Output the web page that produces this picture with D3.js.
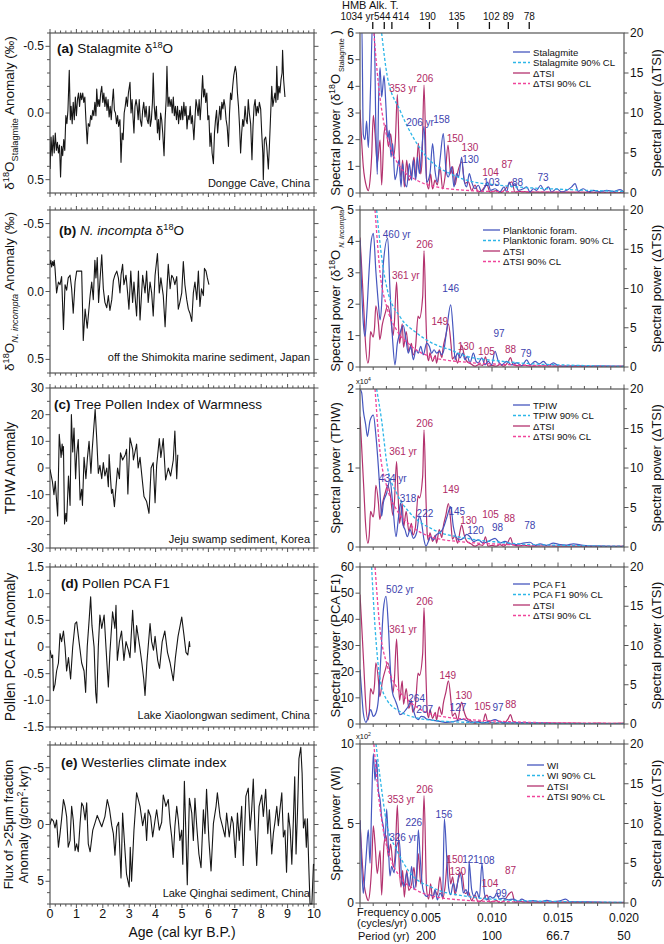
<!DOCTYPE html>
<html><head><meta charset="utf-8">
<script src="https://cdn.jsdelivr.net/npm/d3@7"></script>
<style>body{margin:0;background:#fff;} text{font-family:"Liberation Sans",Arial,Helvetica,sans-serif;fill:#111;}</style>
</head><body><svg id="c" width="664" height="944"></svg>
<script>
// ---------------- DATA ----------------
const ageTicks=[0,1,2,3,4,5,6,7,8,9,10];
const stalagmite=[[0.00,0.42],[0.04,0.18],[0.08,0.32],[0.12,0.17],[0.16,0.30],[0.20,0.15],[0.24,0.28],[0.28,0.22],[0.32,0.30],[0.36,0.24],[0.40,0.48],[0.44,0.25],[0.48,0.32],[0.52,0.20],[0.56,0.28],[0.60,0.02],[0.64,0.08],[0.68,-0.02],[0.73,-0.32],[0.77,0.05],[0.80,-0.05],[0.84,0.08],[0.88,-0.08],[0.92,0.05],[0.96,-0.12],[1.00,0.02],[1.04,-0.10],[1.08,-0.15],[1.12,-0.05],[1.16,-0.15],[1.20,-0.10],[1.24,-0.15],[1.28,-0.08],[1.32,-0.12],[1.36,0.05],[1.41,0.23],[1.45,0.08],[1.50,0.10],[1.54,0.02],[1.58,0.05],[1.62,-0.02],[1.66,0.02],[1.70,-0.08],[1.74,0.02],[1.77,-0.18],[1.81,-0.05],[1.85,-0.10],[1.88,-0.05],[1.92,-0.15],[1.96,-0.20],[2.00,-0.08],[2.04,-0.15],[2.08,-0.05],[2.12,-0.12],[2.16,-0.02],[2.20,-0.10],[2.24,0.03],[2.28,-0.05],[2.32,0.05],[2.36,-0.08],[2.40,-0.18],[2.44,-0.02],[2.48,0.00],[2.52,0.08],[2.56,0.02],[2.60,0.10],[2.65,0.05],[2.69,0.37],[2.73,0.15],[2.77,0.20],[2.81,0.00],[2.85,-0.05],[2.89,-0.12],[2.93,-0.05],[2.97,-0.15],[3.03,-0.23],[3.07,0.00],[3.11,-0.10],[3.15,0.05],[3.18,0.15],[3.22,-0.05],[3.26,-0.10],[3.30,-0.05],[3.34,0.05],[3.38,-0.10],[3.42,0.05],[3.47,0.10],[3.51,-0.02],[3.55,-0.08],[3.60,0.03],[3.64,-0.05],[3.68,0.05],[3.72,0.08],[3.76,-0.05],[3.80,0.10],[3.84,0.05],[3.88,-0.08],[3.91,-0.30],[3.95,-0.05],[3.99,0.05],[4.03,-0.05],[4.07,0.15],[4.11,0.05],[4.15,0.20],[4.19,0.00],[4.23,0.05],[4.27,0.15],[4.32,0.32],[4.36,0.05],[4.40,-0.10],[4.43,-0.35],[4.47,-0.05],[4.51,-0.12],[4.55,-0.05],[4.59,-0.10],[4.63,0.00],[4.67,-0.12],[4.71,0.02],[4.75,-0.05],[4.79,0.05],[4.83,-0.05],[4.87,0.08],[4.91,-0.02],[4.95,0.05],[4.99,-0.05],[5.03,0.05],[5.07,-0.08],[5.11,0.02],[5.15,-0.05],[5.19,0.12],[5.23,0.02],[5.27,0.05],[5.31,-0.05],[5.35,0.08],[5.39,0.02],[5.45,0.20],[5.49,0.05],[5.53,-0.10],[5.57,-0.05],[5.61,0.02],[5.65,-0.10],[5.69,0.05],[5.73,-0.08],[5.78,-0.28],[5.82,-0.12],[5.86,-0.18],[5.90,-0.08],[5.94,-0.15],[5.98,0.05],[6.02,0.02],[6.06,0.25],[6.10,0.15],[6.14,0.30],[6.19,0.38],[6.23,0.15],[6.27,0.05],[6.31,-0.02],[6.35,0.15],[6.39,0.05],[6.43,-0.05],[6.47,0.05],[6.51,-0.08],[6.55,-0.03],[6.59,-0.10],[6.63,-0.05],[6.67,0.05],[6.71,0.10],[6.76,0.25],[6.80,0.00],[6.84,-0.15],[6.88,-0.10],[6.92,-0.20],[6.96,-0.28],[7.02,-0.35],[7.06,-0.30],[7.10,-0.15],[7.14,-0.05],[7.18,0.10],[7.22,0.30],[7.26,0.15],[7.30,0.05],[7.34,0.10],[7.39,-0.05],[7.43,0.05],[7.47,0.08],[7.51,-0.10],[7.55,0.00],[7.60,0.08],[7.65,0.35],[7.69,0.10],[7.73,-0.05],[7.77,-0.10],[7.81,0.02],[7.85,-0.05],[7.89,0.00],[7.93,-0.08],[7.98,-0.03],[8.02,0.15],[8.06,0.30],[8.08,0.50],[8.12,0.20],[8.17,0.18],[8.21,0.25],[8.27,0.42],[8.31,0.25],[8.35,0.05],[8.40,-0.20],[8.44,-0.05],[8.48,-0.10],[8.52,-0.15],[8.56,-0.08],[8.59,-0.35],[8.63,-0.10],[8.67,-0.20],[8.71,-0.15],[8.75,-0.25],[8.79,-0.30],[8.81,-0.47],[8.85,-0.25],[8.90,-0.12]];
const incompta=[[0.00,-0.20],[0.03,-0.23],[0.06,-0.18],[0.10,-0.22],[0.13,-0.19],[0.16,-0.23],[0.19,-0.17],[0.25,0.01],[0.32,-0.07],[0.38,-0.05],[0.44,-0.11],[0.51,0.28],[0.57,-0.05],[0.63,-0.01],[0.69,-0.10],[0.76,-0.12],[0.82,-0.02],[0.88,0.16],[0.95,-0.07],[1.01,-0.15],[1.20,-0.15],[1.26,0.36],[1.33,0.13],[1.41,0.27],[1.52,0.03],[1.58,-0.07],[1.64,0.06],[1.70,-0.23],[1.74,-0.10],[1.79,-0.25],[1.84,0.08],[1.89,-0.07],[1.96,-0.27],[2.02,-0.02],[2.08,0.08],[2.15,0.12],[2.21,0.03],[2.27,0.14],[2.34,0.06],[2.40,-0.08],[2.46,-0.12],[2.53,-0.15],[2.59,-0.10],[2.65,0.01],[2.69,-0.12],[2.75,-0.20],[2.80,-0.05],[2.88,-0.12],[2.94,0.01],[2.99,0.13],[3.06,-0.15],[3.13,0.08],[3.18,-0.07],[3.28,0.18],[3.35,-0.15],[3.41,0.21],[3.51,-0.12],[3.60,0.01],[3.66,-0.15],[3.72,0.08],[3.79,-0.07],[3.85,0.01],[3.91,0.18],[3.98,-0.12],[4.07,-0.28],[4.14,0.01],[4.20,-0.10],[4.29,0.03],[4.36,0.26],[4.42,0.01],[4.48,-0.20],[4.55,-0.02],[4.61,-0.12],[4.67,-0.10],[4.73,-0.05],[4.80,-0.11],[4.86,0.13],[4.92,0.08],[4.99,0.01],[5.05,-0.22],[5.11,-0.05],[5.18,0.06],[5.24,0.13],[5.30,0.16],[5.37,0.22],[5.43,0.01],[5.49,-0.07],[5.56,0.06],[5.62,-0.15],[5.68,0.11],[5.74,-0.02],[5.81,0.03],[5.85,-0.17],[5.91,-0.15],[5.96,-0.10],[6.02,-0.05]];
const tpiw=[[0.00,-0.5],[0.09,-5],[0.15,-10],[0.20,-5],[0.23,-9.5],[0.29,-18],[0.35,12.6],[0.42,4],[0.46,9],[0.50,5],[0.51,8],[0.55,-21],[0.60,-17],[0.63,-20],[0.70,-3],[0.76,-14],[0.81,20],[0.86,6],[0.91,15],[0.97,-4],[1.01,5],[1.07,10.7],[1.14,-12],[1.20,-8],[1.23,-14],[1.29,4],[1.36,-4],[1.42,4],[1.48,10],[1.55,-2],[1.60,7],[1.71,22],[1.77,11],[1.83,-2],[1.89,1],[1.96,-4],[2.02,2],[2.08,-3],[2.15,0],[2.21,-7],[2.24,5],[2.30,-5],[2.33,-9.5],[2.37,-8],[2.44,-14.5],[2.50,-7],[2.56,0],[2.63,-4],[2.67,5.7],[2.75,3],[2.85,5],[2.90,7],[2.95,-9.7],[3.03,11.3],[3.13,7],[3.16,3],[3.28,9],[3.34,0],[3.41,4],[3.47,-2],[3.56,-10.7],[3.66,-12.6],[3.75,-17],[3.83,0],[3.91,2],[3.98,-13],[4.04,1],[4.14,11],[4.20,4],[4.29,11],[4.38,-4.5],[4.48,0],[4.57,-3],[4.67,3],[4.73,13.9],[4.80,-4],[4.84,5]];
const pcaF1=[[0.00,-0.06],[0.06,-0.2],[0.10,-0.15],[0.13,-0.82],[0.19,-0.7],[0.25,-0.45],[0.32,-0.3],[0.38,0.25],[0.44,0.1],[0.51,0.3],[0.57,0.0],[0.63,-0.45],[0.70,-0.2],[0.78,-0.6],[0.86,0.0],[0.95,0.44],[1.01,0.47],[1.10,0.1],[1.20,-0.3],[1.29,-0.45],[1.35,-0.85],[1.41,0.0],[1.49,0.56],[1.54,0.94],[1.59,0.4],[1.67,0.0],[1.73,-0.85],[1.77,-1.05],[1.83,0.0],[1.89,0.6],[1.96,0.35],[2.05,0.6],[2.12,0.0],[2.21,-0.75],[2.27,-0.1],[2.37,0.66],[2.46,0.35],[2.50,0.78],[2.55,-0.25],[2.63,0.1],[2.71,0.3],[2.80,-0.25],[2.88,0.1],[2.97,-0.06],[3.03,-0.2],[3.13,0.69],[3.22,-0.1],[3.28,0.4],[3.40,0.0],[3.48,-0.3],[3.55,-0.6],[3.60,-0.91],[3.67,-0.3],[3.79,0.44],[3.85,0.1],[3.92,-0.06],[3.98,0.2],[4.08,-0.25],[4.15,-0.4],[4.25,0.1],[4.35,0.3],[4.45,-0.1],[4.55,-0.3],[4.67,-0.63],[4.75,-0.2],[4.85,0.2],[4.99,0.56],[5.08,0.2],[5.15,-0.1],[5.22,-0.15],[5.28,0.1],[5.30,0.0]];
const westerlies=[[0.00,0.0],[0.06,-0.5],[0.13,-0.3],[0.19,0.3],[0.25,-0.4],[0.32,2.0],[0.38,0.8],[0.44,-0.5],[0.51,-2.2],[0.57,-1.6],[0.63,-0.7],[0.69,2.0],[0.76,1.4],[0.82,-1.6],[0.88,-0.4],[0.95,2.3],[1.01,1.7],[1.07,2.4],[1.14,-0.1],[1.20,-1.9],[1.26,-1.6],[1.33,-0.4],[1.39,-1.9],[1.45,1.7],[1.52,2.4],[1.62,0.5],[1.70,-0.1],[1.79,-0.8],[1.89,-0.2],[1.96,0.2],[2.08,-0.7],[2.17,-2.2],[2.25,-1.4],[2.34,0.1],[2.40,0.8],[2.46,2.7],[2.53,0.2],[2.60,-0.2],[2.65,2.6],[2.69,4.7],[2.75,-1.0],[2.84,2.3],[2.90,4.4],[3.00,5.5],[3.04,2.0],[3.09,5.0],[3.18,0.5],[3.28,-2.8],[3.41,-1.6],[3.51,0.1],[3.60,-1.0],[3.66,1.4],[3.72,-1.3],[3.81,-0.7],[3.89,1.1],[3.98,-0.4],[4.04,-1.3],[4.14,0.5],[4.23,-0.2],[4.29,-2.6],[4.39,-1.6],[4.48,-2.2],[4.55,-0.1],[4.61,1.1],[4.67,2.9],[4.73,0.2],[4.80,-1.6],[4.86,-0.4],[4.92,1.4],[4.99,0.5],[5.03,3.5],[5.09,-3.8],[5.15,1.1],[5.20,5.3],[5.28,-2.3],[5.37,-1.0],[5.43,1.4],[5.49,-2.3],[5.56,0.2],[5.64,2.6],[5.72,3.8],[5.81,-1.3],[5.87,0.8],[5.93,-3.1],[6.02,1.4],[6.10,4.1],[6.19,-0.1],[6.29,-1.6],[6.34,-2.8],[6.44,-0.7],[6.54,0.2],[6.63,1.1],[6.69,-1.0],[6.79,1.1],[6.88,-0.7],[6.94,-0.1],[7.02,2.9],[7.10,-1.0],[7.17,1.4],[7.26,-1.6],[7.32,3.6],[7.42,-2.5],[7.51,-3.2],[7.58,0.5],[7.64,-1.3],[7.70,-4.0],[7.77,0.8],[7.83,3.6],[7.92,-1.6],[8.02,-2.6],[8.08,-0.7],[8.17,-3.1],[8.25,0.8],[8.31,-1.3],[8.40,2.6],[8.46,0.8],[8.52,-0.2],[8.59,-1.6],[8.65,0.1],[8.71,-1.3],[8.78,-2.8],[8.84,1.1],[8.90,0.5],[8.96,4.2],[9.03,-1.0],[9.10,0.5],[9.16,3.5],[9.22,-0.5],[9.27,-4.2],[9.32,2.6],[9.38,-1.5],[9.43,-5.8],[9.50,-6.8],[9.55,-4.5],[9.60,0.3],[9.66,-0.5],[9.71,2.0],[9.75,-0.5],[9.80,3.5],[9.85,7.0],[9.92,7.0],[9.98,3.5],[10.0,3.6]];

// spectra [frequency, power]
const specStal=[[0,6.5],[0.00013,6.5],[0.00025,2.2],[0.00038,2.0],[0.0005,2.7],[0.00063,1.7],[0.00081,4.1],[0.00096,6.5],[0.00106,6.5],[0.00121,2.2],[0.00131,0.7],[0.00141,3.5],[0.00152,4.7],[0.00164,3.6],[0.00182,4.4],[0.00197,3.2],[0.0021,2.0],[0.00222,2.35],[0.00235,1.35],[0.00247,1.85],[0.00265,0.5],[0.00278,0.73],[0.00295,1.23],[0.00311,0.23],[0.00323,1.1],[0.00336,0.48],[0.00354,0.23],[0.00374,1.1],[0.00391,0.48],[0.00404,1.23],[0.00422,0.48],[0.00434,1.35],[0.0045,0.73],[0.0046,1.1],[0.00485,2.5],[0.00505,0.41],[0.0053,0.73],[0.0055,1.85],[0.00568,0.85],[0.00586,0.41],[0.00606,1.23],[0.00631,2.23],[0.00652,0.85],[0.00669,0.6],[0.00694,0.98],[0.00712,0.23],[0.00732,0.73],[0.00747,0.6],[0.0077,1.35],[0.00788,0.48],[0.00808,0.23],[0.00828,0.73],[0.00846,0.41],[0.00871,0.16],[0.00896,0.29],[0.00922,0.04],[0.00947,0.23],[0.00967,0.41],[0.0099,0.1],[0.01023,0.16],[0.0106,0.04],[0.01091,0.23],[0.01111,0.04],[0.01131,0.41],[0.01149,0.23],[0.01174,0.35],[0.012,0.1],[0.01237,0.16],[0.01263,0.23],[0.01288,0.04],[0.01313,0.16],[0.01338,0.1],[0.01369,0.29],[0.01394,0.1],[0.01427,0.23],[0.01452,0.04],[0.0149,0.16],[0.01528,0.04],[0.01566,0.1],[0.01604,0.23],[0.01629,0.35],[0.01654,0.06],[0.01692,0.16],[0.0173,0.04],[0.01768,0.1],[0.01818,0.04],[0.01869,0.1],[0.01919,0.06],[0.0197,0.13],[0.02,0.04]];
const clStal=[[0.00164,6.0],[0.00207,4.37],[0.00303,3.1],[0.0043,1.86],[0.00556,1.1],[0.00682,0.73],[0.00808,0.48],[0.0106,0.29],[0.01566,0.13],[0.02,0.06]];
const specPlank=[[0,4.05],[0.00013,2.46],[0.00025,1.4],[0.00038,0.97],[0.0005,1.6],[0.00068,3.0],[0.00083,3.94],[0.00101,4.26],[0.00121,3.0],[0.00139,2.03],[0.00152,1.5],[0.00164,2.0],[0.00177,3.3],[0.0021,4.1],[0.00227,2.46],[0.00247,0.87],[0.00265,0.07],[0.00283,0.76],[0.00303,1.08],[0.00328,1.32],[0.00348,0.87],[0.00366,0.44],[0.00384,0.66],[0.00404,0.23],[0.00424,0.55],[0.00442,0.44],[0.0046,0.66],[0.0048,0.39],[0.00505,0.76],[0.00525,0.66],[0.00543,0.44],[0.00561,0.55],[0.00581,0.44],[0.00601,0.5],[0.00619,0.39],[0.00636,0.55],[0.00657,1.19],[0.00687,1.98],[0.00707,1.08],[0.0072,0.23],[0.00737,0.44],[0.00758,0.29],[0.00778,0.44],[0.00795,0.23],[0.00813,0.34],[0.00833,0.13],[0.00859,0.44],[0.00879,0.18],[0.00896,0.13],[0.00922,0.29],[0.00947,0.07],[0.00972,0.18],[0.00997,0.07],[0.01023,0.5],[0.01048,0.18],[0.01073,0.07],[0.01111,0.18],[0.01149,0.07],[0.01187,0.13],[0.01225,0.04],[0.01263,0.23],[0.01288,0.07],[0.01326,0.18],[0.01359,0.1],[0.01389,0.18],[0.01427,0.04],[0.01465,0.13],[0.01503,0.04],[0.01566,0.02],[0.01641,0.04],[0.01742,0.02],[0.01869,0.03],[0.02,0.02]];
const clPlank=[[0.00126,5],[0.00164,3.5],[0.00207,2.46],[0.00303,1.6],[0.0043,1.08],[0.00556,0.74],[0.00682,0.55],[0.00808,0.34],[0.0106,0.19],[0.0131,0.1],[0.0157,0.06],[0.02,0.02]];
const specTPIW=[[0,2.0],[0.00013,1.95],[0.00025,1.73],[0.00043,1.55],[0.00056,1.4],[0.00076,1.6],[0.00101,1.67],[0.00121,1.4],[0.00139,1.02],[0.00152,0.68],[0.00164,0.39],[0.00177,0.56],[0.00202,0.68],[0.00227,0.85],[0.00247,0.56],[0.00273,0.13],[0.0029,0.35],[0.00308,0.56],[0.00323,0.3],[0.00341,0.22],[0.00359,0.13],[0.00379,0.22],[0.00404,0.11],[0.00429,0.18],[0.0045,0.39],[0.00467,0.3],[0.00485,0.09],[0.005,0.01],[0.00518,0.07],[0.00535,0.13],[0.00556,0.09],[0.00581,0.16],[0.00606,0.18],[0.00631,0.24],[0.00657,0.37],[0.00687,0.51],[0.00707,0.26],[0.00727,0.13],[0.00753,0.09],[0.00783,0.11],[0.00808,0.16],[0.00833,0.13],[0.00859,0.07],[0.00896,0.09],[0.00934,0.05],[0.00972,0.07],[0.01023,0.11],[0.0106,0.05],[0.01098,0.07],[0.01136,0.04],[0.01187,0.03],[0.01237,0.05],[0.01288,0.06],[0.01326,0.02],[0.01364,0.04],[0.01414,0.02],[0.01465,0.05],[0.01515,0.03],[0.01566,0.025],[0.01616,0.04],[0.01692,0.02],[0.01818,0.01],[0.02,0.005]];
const clTPIW=[[0.00126,2.0],[0.00164,1.6],[0.00207,1.02],[0.00278,0.68],[0.00379,0.43],[0.00556,0.22],[0.00808,0.11],[0.0106,0.06],[0.0131,0.03],[0.02,0.01]];
const specPCA=[[0,20.8],[0.00013,11.8],[0.00025,4.2],[0.00045,0.6],[0.00063,2.9],[0.00081,5.5],[0.00101,2.9],[0.00121,4.2],[0.00139,9.3],[0.00157,24.6],[0.00177,43.7],[0.00197,48.8],[0.00215,37.3],[0.00232,19.5],[0.00247,11.8],[0.00265,9.3],[0.00283,6.8],[0.00303,3.6],[0.00328,4.2],[0.00348,5.5],[0.00366,6.8],[0.00386,8.7],[0.00404,5.5],[0.00424,2.3],[0.00442,1.7],[0.00463,2.9],[0.00485,2.7],[0.00505,1.9],[0.0053,1.7],[0.00556,1.4],[0.00606,1.0],[0.00657,0.6],[0.00707,0.9],[0.00745,1.4],[0.00783,1.9],[0.00808,1.3],[0.00846,0.6],[0.00884,0.8],[0.00934,0.4],[0.00985,1.1],[0.01023,1.7],[0.0106,0.8],[0.01111,0.4],[0.01187,0.5],[0.01313,0.4],[0.01439,0.25],[0.01566,0.15],[0.01818,0.1],[0.02,0.05]];
const clPCA=[[0.00088,60],[0.00114,37],[0.00152,17],[0.00202,9.3],[0.00303,4.8],[0.0043,2.3],[0.00556,1.4],[0.00808,0.64],[0.0106,0.38],[0.0157,0.13],[0.02,0.05]];
const specWI=[[0,5.2],[0.00013,2.3],[0.00025,0.6],[0.00038,1.9],[0.0005,3.35],[0.00063,4.6],[0.00076,2.5],[0.00088,6.1],[0.00101,9.4],[0.00114,7.7],[0.00126,9.0],[0.00139,7.1],[0.00152,6.5],[0.00164,5.4],[0.00177,4.8],[0.0019,4.0],[0.00202,5.9],[0.00215,3.6],[0.00227,1.7],[0.0024,2.3],[0.00258,1.9],[0.00278,3.6],[0.00298,3.9],[0.00316,1.5],[0.00333,1.05],[0.00354,1.9],[0.00374,1.05],[0.00391,2.3],[0.00409,0.84],[0.00429,1.9],[0.00442,4.6],[0.00455,3.0],[0.0047,1.25],[0.00485,0.63],[0.00505,0.42],[0.0053,0.52],[0.00556,0.42],[0.00568,0.84],[0.00586,0.2],[0.00606,0.63],[0.00626,0.4],[0.00639,5.3],[0.00657,2.9],[0.00672,0.94],[0.00687,0.52],[0.00707,1.25],[0.00727,0.73],[0.00753,1.9],[0.00765,1.7],[0.00783,0.63],[0.00803,0.84],[0.00821,0.42],[0.00826,2.6],[0.00846,0.84],[0.00864,0.42],[0.00884,0.73],[0.00904,0.31],[0.00924,2.5],[0.00942,0.63],[0.0096,0.2],[0.00985,0.42],[0.01005,0.31],[0.01023,0.42],[0.01035,0.63],[0.01056,0.25],[0.01086,0.31],[0.01124,0.2],[0.01162,0.25],[0.012,0.1],[0.01225,0.25],[0.01263,0.1],[0.01313,0.15],[0.01364,0.08],[0.01414,0.17],[0.01465,0.08],[0.01515,0.13],[0.01558,0.25],[0.01591,0.08],[0.01667,0.08],[0.01768,0.06],[0.01869,0.04],[0.02,0.04]];
const clWI=[[0.00121,10],[0.00152,7.9],[0.00202,5.0],[0.00278,3.35],[0.00379,1.9],[0.00556,0.94],[0.00808,0.42],[0.0106,0.21],[0.0157,0.08],[0.02,0.04]];
// Delta TSI spectra (right axis)
const tsiSpecA=[[0,10.4],[0.00025,3.3],[0.0005,0.75],[0.00063,0.3],[0.00076,1.6],[0.00088,4.5],[0.00101,9.7],[0.00114,7.4],[0.00131,3.7],[0.00152,6.6],[0.00164,1.0],[0.00182,7.4],[0.00197,8.5],[0.00215,5.8],[0.00232,7.4],[0.00253,4.5],[0.00268,6.6],[0.00283,12.3],[0.00298,4.5],[0.00311,2.0],[0.00323,4.1],[0.00336,0.75],[0.00354,4.1],[0.00369,1.6],[0.00391,2.4],[0.00409,4.5],[0.00424,2.0],[0.00442,6.2],[0.0046,2.4],[0.0047,4.1],[0.00485,13.5],[0.00505,1.6],[0.0052,0.5],[0.00535,2.4],[0.0055,0.5],[0.00568,1.6],[0.00586,1.0],[0.00606,3.3],[0.00626,0.5],[0.00644,2.0],[0.00667,6.0],[0.00687,2.4],[0.00702,3.3],[0.0072,1.0],[0.00737,2.4],[0.0077,3.9],[0.00795,1.2],[0.00821,1.4],[0.00846,0.3],[0.00871,1.0],[0.00896,0.1],[0.00922,0.3],[0.00962,1.0],[0.00985,0.1],[0.01035,0.3],[0.0106,0.0],[0.0109,0.3],[0.0115,1.4],[0.01174,0.1],[0.01212,0.2],[0.0131,0.1],[0.0157,0.1],[0.02,0.05]];
const tsiClA=[[0.00105,20],[0.00139,13.7],[0.00177,9.1],[0.00227,5.8],[0.00303,3.3],[0.0043,1.6],[0.00556,0.84],[0.0081,0.33],[0.0106,0.17],[0.02,0.05]];
const tsiSpecB=[[0,16.5],[0.0001,13.5],[0.0003,7],[0.0004,3.5],[0.0006,0.5],[0.0007,1.5],[0.0008,4.5],[0.001,3.8],[0.0011,5],[0.0012,7.8],[0.0014,5.5],[0.0015,3.5],[0.0017,5.5],[0.0019,6.8],[0.0021,7.8],[0.0023,6.5],[0.0025,4],[0.0026,5.5],[0.00277,10.8],[0.0029,6],[0.003,3],[0.0032,5.5],[0.0033,2.5],[0.0035,4.5],[0.0037,2.0],[0.0039,3.0],[0.004,1.5],[0.0042,2.5],[0.0044,6.5],[0.0045,6.2],[0.00475,9],[0.00485,14.8],[0.005,6],[0.0051,1.5],[0.0052,0.8],[0.0053,1.8],[0.0055,0.7],[0.0057,1.5],[0.0058,0.5],[0.006,2.2],[0.0062,1.2],[0.0063,2.5],[0.0065,4.0],[0.0067,5.5],[0.0069,2.8],[0.007,1.0],[0.0072,1.4],[0.0074,0.5],[0.0076,2.2],[0.0077,2.8],[0.0079,1.5],[0.0081,0.7],[0.0084,0.4],[0.0087,0.1],[0.009,0.3],[0.0093,0.2],[0.0095,1.3],[0.0097,0.1],[0.01,0.2],[0.0103,0.1],[0.0106,0.3],[0.0109,0.1],[0.0112,0.6],[0.0114,1.2],[0.0116,0.3],[0.012,0.15],[0.0125,0.2],[0.013,0.1],[0.014,0.15],[0.015,0.1],[0.016,0.12],[0.017,0.08],[0.018,0.1],[0.019,0.08],[0.02,0.1]];
const tsiClB=[[0.00114,20],[0.00152,12],[0.00202,7.7],[0.00278,4.7],[0.00379,2.8],[0.00556,1.2],[0.00808,0.6],[0.0106,0.35],[0.0131,0.2],[0.02,0.08]];

// peak annotations: [text, frequency, power(left axis), which spectrum]
const peaksA=[["353 yr",0.00326,3.79,"tsi"],["206",0.00492,4.16,"tsi"],["206 yr",0.00455,2.51,"proxy"],["158",0.00618,2.62,"proxy"],["150",0.0072,1.91,"tsi"],["130",0.00833,1.57,"tsi"],["130",0.00837,1.12,"proxy"],["104",0.00989,0.64,"tsi"],["103",0.00996,0.26,"proxy"],["87",0.01114,0.94,"tsi"],["88",0.01193,0.26,"proxy"],["73",0.01386,0.45,"proxy"]];
const peaksB=[["460 yr",0.00278,4.12,"proxy"],["206",0.0049,3.79,"tsi"],["361 yr",0.00347,2.80,"tsi"],["146",0.00687,2.40,"proxy"],["149",0.00604,1.34,"tsi"],["130",0.00803,0.54,"tsi"],["105",0.00958,0.38,"tsi"],["97",0.01053,0.97,"proxy"],["88",0.0114,0.46,"tsi"],["79",0.01258,0.32,"proxy"]];
const peaksC=[["206",0.0049,1.523,"tsi"],["361 yr",0.00326,1.165,"tsi"],["434 yr",0.00248,0.827,"proxy"],["318",0.00364,0.573,"proxy"],["222",0.00492,0.384,"proxy"],["149",0.00689,0.684,"tsi"],["145",0.00733,0.405,"proxy"],["130",0.00822,0.29,"tsi"],["120",0.00875,0.165,"proxy"],["105",0.00989,0.367,"tsi"],["98",0.01042,0.203,"proxy"],["88",0.01133,0.316,"tsi"],["78",0.01286,0.228,"proxy"]];
const peaksD=[["502 yr",0.00303,50.1,"proxy"],["206",0.0049,45.6,"tsi"],["361 yr",0.00326,34.9,"tsi"],["149",0.00665,17.1,"tsi"],["130",0.00786,9.44,"tsi"],["264",0.00429,8.41,"proxy"],["207",0.0049,4.09,"proxy"],["127",0.00742,4.97,"proxy"],["105",0.00928,5.35,"tsi"],["97",0.01045,4.97,"proxy"],["88",0.01142,6.11,"tsi"]];
const peaksE=[["353 yr",0.00311,6.29,"tsi"],["206",0.0049,6.92,"tsi"],["326 yr",0.00326,3.90,"proxy"],["226",0.00407,4.84,"proxy"],["156",0.00636,5.35,"proxy"],["150",0.00718,2.5,"tsi"],["121",0.00837,2.52,"proxy"],["108",0.00957,2.45,"proxy"],["130",0.00741,1.75,"tsi"],["104",0.00985,1.0,"tsi"],["99",0.0107,0.4,"proxy"],["87",0.0114,1.82,"tsi"]];

const legendA=["Stalagmite","Stalagmite 90% CL","ΔTSI","ΔTSI 90% CL"];
const legendB=["Planktonic foram.","Planktonic foram. 90% CL","ΔTSI","ΔTSI 90% CL"];
const legendC=["TPIW","TPIW 90% CL","ΔTSI","ΔTSI 90% CL"];
const legendD=["PCA F1","PCA F1 90% CL","ΔTSI","ΔTSI 90% CL"];
const legendE=["WI","WI 90% CL","ΔTSI","ΔTSI 90% CL"];

const hmbPeriods=[1034,544,414,190,135,102,89,78];
const hmbLabels=["1034 yr","544","414","190","135","102","89","78"];
const freqTicks=[0.005,0.010,0.015,0.020];
const freqTickLabels=["0.005","0.010","0.015","0.020"];
const periodLabels=["200","100","66.7","50"];

const yTicksA=[-0.5,0,0.5], yLabA=["-0.5","0.0","0.5"];
const yTicksC=[30,20,10,0,-10,-20,-30], yLabC=["30","20","10","0","-10","-20","-30"];
const yTicksD=[1.5,1.0,0.5,0,-0.5,-1.0,-1.5], yLabD=["1.5","1.0","0.5","0","-0.5","-1.0","-1.5"];
const yTicksE=[-5,0,5], yLabE=["-5","0","5"];
const tsiTicks=[0,5,10,15,20];

// ---------------- DRAW ----------------
const svg=d3.select('#c');
const defs=svg.append('defs');
const LX=[50,314], RX=[360,624];
const leftRows=[[33,193],[210,373],[388,548],[567,727],[745,904]];
const rightRows=[[33,193],[210,367],[389,547],[567,724],[744,903]];
const xAge=d3.scaleLinear().domain([0,10]).range(LX);
const xF=d3.scaleLinear().domain([0,0.02]).range(RX);
const FR='#555';
const C_PROXY='#4657bf', C_CL='#2db6e8', C_TSI='#b3326e', C_TSICL='#f0449a';
const L_PROXY='#3d3fae', L_TSI='#b02a66';

function rich(t,parts,size,subScale){
  let cur=0;
  parts.forEach(p=>{
    const ts=t.append('tspan').text(p.t);
    const target=p.s==='sup'?-size*0.38:p.s==='sub'?size*0.28:0;
    ts.attr('dy',target-cur); cur=target;
    if(p.s) ts.attr('font-size',size*(p.s==='sub'&&subScale?subScale:0.68));
    if(p.i) ts.attr('font-style','italic');
    if(p.b) ts.attr('font-weight','bold');
  });
}
function hline(g,x1,x2,y,c,w){g.append('line').attr('x1',x1).attr('x2',x2).attr('y1',y).attr('y2',y).attr('stroke',c||FR).attr('stroke-width',w||1);}
function vline(g,x,y1,y2,c,w){g.append('line').attr('x1',x).attr('x2',x).attr('y1',y1).attr('y2',y2).attr('stroke',c||FR).attr('stroke-width',w||1);}

const leftCfg=[
 {data:stalagmite,dom:[-0.6,0.6],ticks:yTicksA,labs:yLabA,minor:d3.range(-0.6,0.601,0.1),
  title:[{t:"(a)",b:1},{t:" Stalagmite δ"},{t:"18",s:"sup"},{t:"O"}],tx:57,ty:53,srcDy:6,
  src:"Dongge Cave, China",ytitle:[[{t:"δ"},{t:"18",s:"sup"},{t:"O"},{t:"Stalagmite",s:"sub"},{t:" Anomaly (‰)"}]],yx:[14],yfs:13.5},
 {data:incompta,dom:[-0.6,0.6],ticks:yTicksA,labs:yLabA,minor:d3.range(-0.6,0.601,0.1),
  title:[{t:"(b)",b:1},{t:" "},{t:"N. incompta",i:1},{t:" δ"},{t:"18",s:"sup"},{t:"O"}],tx:59,ty:235,srcDy:12,
  src:"off the Shimokita marine sediment, Japan",ytitle:[[{t:"δ"},{t:"18",s:"sup"},{t:"O"},{t:"N. incompta",s:"sub",i:1},{t:" Anomaly (‰)"}]],yx:[14],yfs:13.5},
 {data:tpiw,dom:[30,-30],ticks:yTicksC,labs:yLabC,minor:d3.range(-30,30.01,5),
  title:[{t:"(c)",b:1},{t:" Tree Pollen Index of Warmness"}],tx:54,ty:409,srcDy:5,
  src:"Jeju swamp sediment, Korea",ytitle:[[{t:"TPIW Anomaly"}]],yx:[15],yfs:14},
 {data:pcaF1,dom:[1.5,-1.5],ticks:yTicksD,labs:yLabD,minor:d3.range(-1.5,1.501,0.25),
  title:[{t:"(d)",b:1},{t:" Pollen PCA F1"}],tx:61,ty:588,srcDy:8,
  src:"Lake Xiaolongwan sediment, China",ytitle:[[{t:"Pollen PCA F1 Anomaly"}]],yx:[15],yfs:14},
 {data:westerlies,dom:[-7,7],ticks:yTicksE,labs:yLabE,minor:d3.range(-7,7.01,1),
  title:[{t:"(e)",b:1},{t:" Westerlies climate index"}],tx:61,ty:767,srcDy:7,
  src:"Lake Qinghai sediment, China",ytitle:[[{t:"Flux of >25μm fraction"}],[{t:"Anomaly (g/cm"},{t:"2",s:"sup"},{t:"·kyr)"}]],yx:[13,28],yfs:13}
];

leftCfg.forEach((cfg,i)=>{
  const [top,bot]=leftRows[i];
  const y=d3.scaleLinear().domain(cfg.dom).range([top,bot]);
  const g=svg.append('g');
  const cid='cl'+i;
  defs.append('clipPath').attr('id',cid).append('rect').attr('x',LX[0]).attr('y',top-1).attr('width',LX[1]-LX[0]+1).attr('height',bot-top+2);
  d3.range(0,10.001,0.2).forEach(t=>{
    const major=Math.abs(t-Math.round(t))<1e-6; const len=major?4:2.5; const x=xAge(t);
    vline(g,x,top-len,top); vline(g,x,bot,bot+len);
  });
  cfg.minor.forEach(v=>{
    const major=cfg.ticks.some(tv=>Math.abs(tv-v)<1e-6); const len=major?4.5:3; const yy=y(v);
    hline(g,LX[0]-len,LX[0],yy); hline(g,LX[1],LX[1]+len,yy);
  });
  cfg.ticks.forEach((v,k)=>{
    g.append('text').attr('x',LX[0]-6).attr('y',y(v)+4).attr('text-anchor','end').attr('font-size',12).text(cfg.labs[k]);
  });
  g.append('rect').attr('x',LX[0]).attr('y',top).attr('width',LX[1]-LX[0]).attr('height',bot-top).attr('fill','none').attr('stroke',FR).attr('stroke-width',1.2);
  g.append('path').datum(cfg.data).attr('clip-path',`url(#${cid})`)
   .attr('d',d3.line().x(d=>xAge(d[0])).y(d=>y(d[1])))
   .attr('fill','none').attr('stroke','#161616').attr('stroke-width',1.1).attr('stroke-linejoin','round');
  const tt=g.append('text').attr('x',cfg.tx).attr('y',cfg.ty).attr('font-size',13.5);
  rich(tt,cfg.title,13.5);
  g.append('text').attr('x',LX[1]-4).attr('y',bot-cfg.srcDy).attr('text-anchor','end').attr('font-size',11).text(cfg.src);
  cfg.ytitle.forEach((parts,k)=>{
    const yt=g.append('text').attr('transform',`translate(${cfg.yx[k]},${(top+bot)/2}) rotate(-90)`).attr('text-anchor','middle').attr('font-size',cfg.yfs);
    rich(yt,parts,cfg.yfs);
  });
});
ageTicks.forEach(t=>{
  svg.append('text').attr('x',xAge(t)).attr('y',918).attr('text-anchor','middle').attr('font-size',12.5).text(t);
});
svg.append('text').attr('x',(LX[0]+LX[1])/2).attr('y',937).attr('text-anchor','middle').attr('font-size',14).text("Age (cal kyr B.P.)");

const rightCfg=[
 {spec:specStal,cl:clStal,tsi:tsiSpecA,tsicl:tsiClA,ymax:6,ticks:[0,1,2,3,4,5,6],minor:[],peaks:peaksA,legend:legendA,lg:[513,52],
  ytitle:[{t:"Spectral power (δ"},{t:"18",s:"sup"},{t:"O"},{t:" Stalagmite",s:"sub"},{t:" )"}],topTicks:false},
 {spec:specPlank,cl:clPlank,tsi:tsiSpecB,tsicl:tsiClB,ymax:5,ticks:[0,1,2,3,4,5],minor:[],peaks:peaksB,legend:legendB,lg:[483,230],
  ytitle:[{t:"Spectral power (δ"},{t:"18",s:"sup"},{t:"O"},{t:" N. incompta",s:"sub",i:1},{t:")"}],topTicks:true},
 {spec:specTPIW,cl:clTPIW,tsi:tsiSpecB,tsicl:tsiClB,ymax:2,ticks:[0,1,2],minor:[0.5,1.5],peaks:peaksC,legend:legendC,lg:[513,405],
  ytitle:[{t:"Spectral power (TPIW)"}],mult:"4",topTicks:true},
 {spec:specPCA,cl:clPCA,tsi:tsiSpecB,tsicl:tsiClB,ymax:60,ticks:[0,10,20,30,40,50,60],minor:[],peaks:peaksD,legend:legendD,lg:[513,584],
  ytitle:[{t:"Spectral power (PCA F1)"}],topTicks:true},
 {spec:specWI,cl:clWI,tsi:tsiSpecA,tsicl:tsiClA,ymax:10,ticks:[0,5,10],minor:[2.5,7.5],peaks:peaksE,legend:legendE,lg:[527,765],
  ytitle:[{t:"Spectral power (WI)"}],mult:"2",topTicks:true}
];
rightCfg.forEach((cfg,i)=>{
  const [top,bot]=rightRows[i];
  const yL=d3.scaleLinear().domain([0,cfg.ymax]).range([bot,top]);
  const yR=d3.scaleLinear().domain([0,20]).range([bot,top]);
  const g=svg.append('g');
  const cid='cr'+i;
  defs.append('clipPath').attr('id',cid).append('rect').attr('x',RX[0]).attr('y',top).attr('width',RX[1]-RX[0]).attr('height',bot-top);
  d3.range(0,0.02001,0.001).forEach(f=>{
    const major=Math.abs(f/0.005-Math.round(f/0.005))<1e-6; const len=major?4.5:3; const x=xF(f);
    if(cfg.topTicks) vline(g,x,top-len,top);
    vline(g,x,bot,bot+len);
  });
  cfg.ticks.forEach(v=>{ hline(g,RX[0]-4.5,RX[0],yL(v));
    g.append('text').attr('x',RX[0]-6).attr('y',yL(v)+4).attr('text-anchor','end').attr('font-size',12).text(v); });
  cfg.minor.forEach(v=>hline(g,RX[0]-3,RX[0],yL(v)));
  tsiTicks.forEach(v=>{ hline(g,RX[1],RX[1]+4.5,yR(v));
    g.append('text').attr('x',RX[1]+6).attr('y',yR(v)+4).attr('font-size',12).text(v); });
  [2.5,7.5,12.5,17.5].forEach(v=>hline(g,RX[1],RX[1]+3,yR(v)));
  const lineL=d3.line().x(d=>xF(d[0])).y(d=>yL(d[1])).curve(d3.curveMonotoneX);
  const lineR=d3.line().x(d=>xF(d[0])).y(d=>yR(d[1])).curve(d3.curveMonotoneX);
  const cp=g.append('g').attr('clip-path',`url(#${cid})`);
  cp.append('path').datum(cfg.tsi).attr('d',lineR).attr('fill','none').attr('stroke',C_TSI).attr('stroke-width',1.2);
  cp.append('path').datum(cfg.spec).attr('d',lineL).attr('fill','none').attr('stroke',C_PROXY).attr('stroke-width',1.2);
  cp.append('path').datum(cfg.tsicl).attr('d',lineR).attr('fill','none').attr('stroke',C_TSICL).attr('stroke-width',1.3).attr('stroke-dasharray','3,2');
  cp.append('path').datum(cfg.cl).attr('d',lineL).attr('fill','none').attr('stroke',C_CL).attr('stroke-width',1.3).attr('stroke-dasharray','3,2');
  g.append('rect').attr('x',RX[0]).attr('y',top).attr('width',RX[1]-RX[0]).attr('height',bot-top).attr('fill','none').attr('stroke',FR).attr('stroke-width',1.2);
  cfg.peaks.forEach(p=>{
    const c=p[3]==='tsi'?L_TSI:L_PROXY;
    g.append('text').attr('x',xF(p[1])).attr('y',yL(p[2])).attr('text-anchor','middle').attr('font-size',10)
     .style('fill',c).text(p[0]);
  });
  const styles=[[C_PROXY,null],[C_CL,'3,2'],[C_TSI,null],[C_TSICL,'3,2']];
  cfg.legend.forEach((txt,k)=>{
    const yy=cfg.lg[1]+k*10.5;
    const ln=g.append('line').attr('x1',cfg.lg[0]).attr('x2',cfg.lg[0]+17).attr('y1',yy).attr('y2',yy).attr('stroke',styles[k][0]).attr('stroke-width',1.3);
    if(styles[k][1]) ln.attr('stroke-dasharray',styles[k][1]);
    g.append('text').attr('x',cfg.lg[0]+20).attr('y',yy+3.5).attr('font-size',9.6).text(txt);
  });
  const yt=g.append('text').attr('transform',`translate(340,${(top+bot)/2}) rotate(-90)`).attr('text-anchor','middle').attr('font-size',13);
  rich(yt,cfg.ytitle,13,0.55);
  g.append('text').attr('transform',`translate(661,${(top+bot)/2}) rotate(-90)`).attr('text-anchor','middle').attr('font-size',13).text("Spectral power (ΔTSI)");
  if(cfg.mult){
    const mt=g.append('text').attr('x',RX[0]-4).attr('y',top-5).attr('font-size',7.5);
    rich(mt,[{t:"x10"},{t:cfg.mult,s:"sup"}],7.5);
  }
});
// HMB Alk. T. period ticks on top of panel (a)
const gt=svg.append('g');
gt.append('text').attr('x',342).attr('y',9).attr('font-size',11).text("HMB Alk. T.");
const hmbDx=[0,-2,9,-2,-1,2,0,0];
hmbPeriods.forEach((p,k)=>{
  const x=xF(1/p);
  vline(gt,x,22,29,'#111',1.3);
  const t=gt.append('text').attr('y',20).attr('font-size',10).text(hmbLabels[k]);
  if(k===0) t.attr('x',x+1).attr('text-anchor','end'); else t.attr('x',x+hmbDx[k]).attr('text-anchor','middle');
});
freqTicks.forEach((f,k)=>{
  svg.append('text').attr('x',xF(f)).attr('y',922).attr('text-anchor','middle').attr('font-size',12).text(freqTickLabels[k]);
  svg.append('text').attr('x',xF(f)).attr('y',940).attr('text-anchor','middle').attr('font-size',12).text(periodLabels[k]);
});
svg.append('text').attr('x',357).attr('y',916).attr('font-size',11).text("Frequency");
svg.append('text').attr('x',357).attr('y',927).attr('font-size',11).text("(cycles/yr)");
svg.append('text').attr('x',358).attr('y',940).attr('font-size',11).text("Period (yr)");
</script></body></html>
